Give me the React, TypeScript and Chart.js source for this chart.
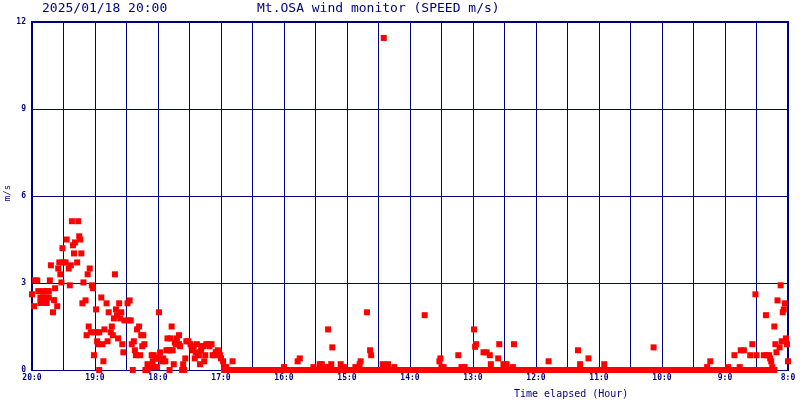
import React, { useEffect, useRef } from "react";
import { Chart, registerables } from "chart.js";

Chart.register(...registerables);

const NAVY = "#000080";
const RED = "#ff0000";

const TITLE_DATE = "2025/01/18 20:00";
const TITLE_MAIN = "Mt.OSA wind monitor (SPEED m/s)";
const X_TITLE = "Time elapsed (Hour)";
const Y_TITLE = "m/s";

const START_HOUR = 20; // left edge label
const SPAN_MIN = 720; // 12 hours
const Y_TICKS = [0, 3, 6, 9, 12];

// minutes elapsed (from 20:00 going back) and speed in m/s
const sampleMinutes = [
  0, 2, 3, 5, 6, 8, 8, 10, 11, 11, 11, 14, 14, 14, 16, 16, 17, 18, 20, 21,
  22, 24, 25, 26, 27, 28, 29, 30, 32, 33, 35, 36, 37, 38, 39, 40, 41, 43, 44, 45,
  46, 47, 48, 49, 51, 52, 53, 54, 55, 56, 57, 58, 59, 59, 61, 62, 62, 63, 64, 64,
  66, 67, 68, 69, 71, 72, 73, 75, 76, 77, 78, 79, 80, 81, 82, 83, 84, 85, 86, 87,
  88, 91, 92, 93, 94, 95, 96, 97, 98, 99, 100, 102, 103, 104, 105, 106, 107, 108, 110, 110,
  112, 114, 115, 116, 117, 118, 119, 120, 121, 121, 122, 124, 125, 127, 128, 129, 130, 131, 132, 132,
  133, 134, 135, 136, 137, 138, 138, 140, 140, 141, 143, 144, 145, 146, 147, 149, 151, 152, 153, 154,
  155, 156, 157, 158, 159, 160, 161, 162, 163, 164, 165, 166, 168, 169, 171, 172, 174, 175, 176, 177,
  178, 179, 180, 182, 183, 185, 191,
  240, 253, 255, 268, 274, 276, 279, 281, 282, 285, 286, 294, 297, 308, 312, 313, 319, 322, 323, 334,
  335, 339, 345, 374, 388, 389, 390, 392, 406, 409, 412, 421, 422, 423, 430, 433, 436, 437, 444, 445,
  449, 452, 458, 459, 492, 520, 522, 530, 545, 592, 643, 646, 663, 669, 674, 675, 678, 684, 686, 689,
  690, 697, 699, 700, 702, 703, 704, 705, 707, 708, 709, 710, 712, 713, 714, 715, 716, 717, 718, 719,
  720,
];

const sampleSpeeds = [
  2.61, 2.2, 3.09, 3.09, 2.72, 2.5, 2.31, 2.5, 2.5, 2.72, 2.31, 2.5, 2.72, 2.31, 2.5, 2.72, 3.09, 3.61, 1.99, 2.41,
  2.82, 2.2, 3.5, 3.71, 3.3, 3.02, 4.2, 3.71, 3.71, 4.5, 3.5, 2.92, 3.61, 5.13, 4.3, 4.02, 4.4, 3.71, 5.13, 4.61,
  4.5, 4.02, 2.3, 3.02, 2.4, 1.2, 3.3, 1.5, 3.5, 1.3, 2.92, 2.82, 1.3, 0.51, 2.09, 1.3, 0.99, 0.89, 1.3, 0,
  2.5, 0.89, 0.3, 1.4, 2.3, 0.99, 1.99, 1.3, 1.5, 1.2, 1.78, 3.3, 2.09, 1.89, 1.09, 2.3, 1.78, 1.99, 0.89, 0.61,
  1.71, 2.3, 1.71, 2.4, 1.71, 0.89, 0, 0.99, 0.68, 0.51, 1.4, 1.5, 0.51, 1.2, 0.82, 1.2, 0.89, 0, 0, 0.2,
  0.1, 0.51, 0.3, 0.51, 0.1, 0.4, 0.1, 0.4, 0.4, 1.99, 0.61, 0.3, 0.4, 0.3, 0.68, 1.09, 0.68, 0, 0.68, 1.09,
  1.5, 0.68, 0.2, 0.95, 0.89, 1.09, 0.89, 0.89, 1.2, 0.82, 0, 0.2, 0, 0.4, 0.99, 0.99, 0.89, 0.82, 0.68, 0.82,
  0.4, 0.61, 0.89, 0.51, 0.51, 0.2, 0.68, 0.82, 0.82, 0.3, 0.51, 0.89, 0.89, 0.82, 0.89, 0.51, 0.51, 0.61, 0.61, 0.68,
  0.61, 0.51, 0.4, 0.3, 0.1, 0.1, 0.3,
  0.1, 0.3, 0.4, 0.1, 0.2, 0.2, 0.1, 0.1, 1.4, 0.2, 0.78, 0.2, 0.1, 0.1, 0.2, 0.3, 1.99, 0.68, 0.51, 0.2,
  11.45, 0.2, 0.1, 1.89, 0.3, 0.4, 0.1, 0.1, 0.51, 0.1, 0.1, 1.4, 0.8, 0.89, 0.61, 0.61, 0.51, 0.2, 0.4, 0.89,
  0.2, 0.2, 0.1, 0.89, 0.3, 0.68, 0.2, 0.4, 0.2, 0.78, 0.1, 0.3, 0.1, 0.51, 0.1, 0.68, 0.68, 0.51, 0.89, 2.61,
  0.51, 0.51, 1.89, 0.51, 0.51, 0.4, 0.3, 0.1, 1.5, 0.89, 0.61, 2.4, 0.78, 2.92, 0.99, 1.99, 2.09, 2.3, 1.09, 0.89,
  0.3,
];

// calm period: reading 0 m/s every minute between these minutes
const calmStartMinute = 183;
const calmEndMinute = 707;

export default function App() {
  const ref = useRef<HTMLCanvasElement | null>(null);

  useEffect(() => {
    document.body.style.margin = "0";
    const canvas = ref.current;
    if (!canvas) return;

    const points: { x: number; y: number }[] = [];
    for (let m = calmStartMinute; m <= calmEndMinute; m++) points.push({ x: m, y: 0 });
    sampleMinutes.forEach((m, i) => points.push({ x: m, y: sampleSpeeds[i] }));

    const overlay = {
      id: "overlay",
      beforeDatasetsDraw(chart: any) {
        const { ctx, chartArea: a } = chart;
        ctx.save();
        ctx.strokeStyle = NAVY;
        ctx.lineWidth = 2;
        ctx.beginPath();
        ctx.moveTo(a.left, a.bottom);
        ctx.lineTo(a.left, a.top);
        ctx.lineTo(a.right, a.top);
        ctx.lineTo(a.right, a.bottom);
        ctx.stroke();
        ctx.restore();
      },
      afterDraw(chart: any) {
        const { ctx } = chart;
        ctx.save();
        ctx.fillStyle = NAVY;
        ctx.textBaseline = "middle";
        ctx.textAlign = "left";
        ctx.font = '13px "DejaVu Sans Mono"';
        ctx.fillText(TITLE_DATE, 42, 9);
        ctx.fillText(TITLE_MAIN, 257, 9);
        ctx.font = '10px "DejaVu Sans Mono"';
        ctx.fillText(X_TITLE, 514, 394);
        ctx.translate(8, 193);
        ctx.rotate(-Math.PI / 2);
        ctx.textAlign = "center";
        ctx.font = '9px "DejaVu Sans Mono"';
        ctx.fillText(Y_TITLE, 0, 0);
        ctx.restore();
      },
    };

    const chart = new Chart(canvas, {
      type: "scatter",
      data: {
        datasets: [
          {
            data: points,
            backgroundColor: RED,
            borderWidth: 0,
            pointStyle: "rect",
            pointRadius: 4.25,
            pointHoverRadius: 4.25,
            clip: false as any,
          },
        ],
      },
      options: {
        animation: false,
        responsive: false,
        events: [],
        layout: { padding: { top: 22, right: 12, left: 0, bottom: 0 } },
        plugins: {
          legend: { display: false },
          title: { display: false },
          tooltip: { enabled: false },
        },
        scales: {
          x: {
            type: "linear",
            min: 0,
            max: SPAN_MIN,
            afterFit: (s: any) => {
              s.height = 30;
            },
            afterBuildTicks: (s: any) => {
              const t = [];
              for (let v = 0; v <= SPAN_MIN; v += 30) t.push({ value: v });
              s.ticks = t;
            },
            ticks: {
              autoSkip: false,
              maxRotation: 0,
              padding: 3,
              color: NAVY,
              font: { family: '"DejaVu Sans Mono"', size: 8, weight: "bold" },
              callback: (v: any) => (Number(v) % 60 === 0 ? `${START_HOUR - Number(v) / 60}:0` : ""),
            },
            grid: { color: NAVY, lineWidth: 1, drawTicks: false },
            border: { color: NAVY, width: 1 },
          },
          y: {
            type: "linear",
            min: 0,
            max: 12,
            afterFit: (s: any) => {
              s.width = 32;
            },
            afterBuildTicks: (s: any) => {
              s.ticks = Y_TICKS.map((v) => ({ value: v }));
            },
            ticks: {
              padding: 6,
              color: NAVY,
              font: { family: '"DejaVu Sans Mono"', size: 8, weight: "bold" },
            },
            grid: { color: NAVY, lineWidth: 1, drawTicks: false },
            border: { color: NAVY, width: 2 },
          },
        },
      },
      plugins: [overlay],
    });

    return () => chart.destroy();
  }, []);

  return (
    <div style={{ position: "absolute", left: 0, top: 0, width: 800, height: 400, background: "#fff" }}>
      <canvas ref={ref} width={800} height={400} />
    </div>
  );
}
